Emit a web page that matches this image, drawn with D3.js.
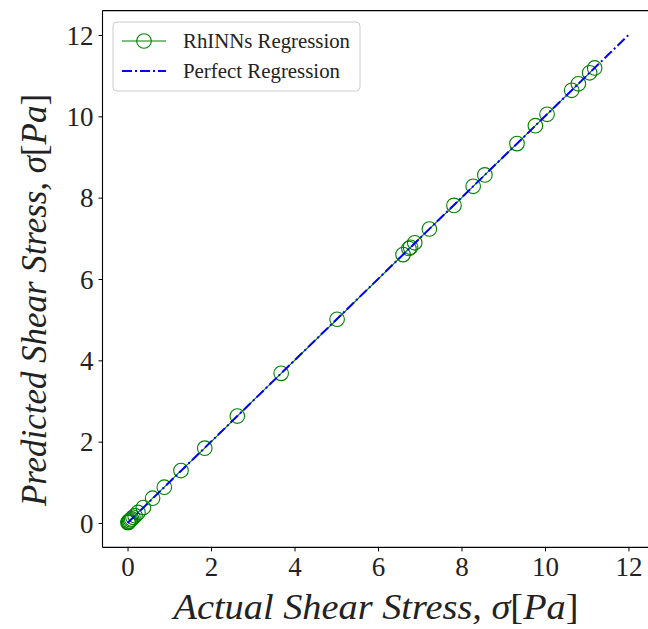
<!DOCTYPE html>
<html>
<head>
<meta charset="utf-8">
<script src="https://cdn.jsdelivr.net/npm/d3@7"></script>
<style>
	html, body { margin: 0; padding: 0; background: #fff; }
	svg { display: block; }
</style>
</head>
<body>
<svg id="chart" width="648" height="629"></svg>
<script>
'use strict'

// RhINNs predictions vs. measured shear stress
var actualStress = [0.01, 0.02, 0.03, 0.05, 0.07, 0.10, 0.13, 0.18, 0.25, 0.38, 0.60, 0.88,
	1.28, 1.85, 2.63, 3.68, 5.02, 6.60, 6.74, 6.78, 6.88, 7.23, 7.82, 8.28, 8.56,
	9.33, 9.77, 10.05, 10.64, 10.80, 11.07, 11.19];
var predictedStress = [0.01, 0.02, 0.04, 0.05, 0.08, 0.10, 0.14, 0.18, 0.26, 0.38, 0.61, 0.88,
	1.29, 1.84, 2.63, 3.68, 5.01, 6.60, 6.75, 6.78, 6.89, 7.23, 7.81, 8.28, 8.56,
	9.33, 9.77, 10.05, 10.64, 10.80, 11.07, 11.19];

// y = x reference
var perfectX = [0, 12];
var perfectY = [0, 12];

var xTicks = [0, 2, 4, 6, 8, 10, 12];
var yTicks = [0, 2, 4, 6, 8, 10, 12];

var legendLabels = ['RhINNs Regression', 'Perfect Regression'];

var serif = '"Liberation Serif", "Times New Roman", "DejaVu Serif", serif';

var svg = d3.select('#chart');
var frame = { left: 102.5, top: 10.6, right: 653.5, bottom: 547.4 };

var xScale = d3.scaleLinear().domain([-0.6, 12.6]).range([frame.left, frame.right]);
var yScale = d3.scaleLinear().domain([-0.6, 12.6]).range([frame.bottom, frame.top]);

svg.append('rect').attr('width', 648).attr('height', 629).attr('fill', '#fff');

var plot = svg.append('g').attr('id', 'plot');

var points = actualStress.map(function(d, i){ return { x: d, y: predictedStress[i] }; });

// green connecting line sits under the blue one
plot.append('path')
	.datum(points)
	.attr('fill', 'none')
	.attr('stroke', '#008000')
	.attr('stroke-width', 1.1)
	.attr('d', d3.line()
		.x(function(d){ return xScale(d.x); })
		.y(function(d){ return yScale(d.y); }));

plot.append('g')
	.selectAll('circle')
	.data(points)
	.enter()
	.append('circle')
	.attr('r', 7.3)
	.attr('fill', 'none')
	.attr('stroke', '#008000')
	.attr('stroke-width', 1.1)
	.attr('cx', function(d){ return xScale(d.x); })
	.attr('cy', function(d){ return yScale(d.y); });

plot.append('path')
	.datum(perfectX.map(function(d, i){ return [d, perfectY[i]]; }))
	.attr('fill', 'none')
	.attr('stroke', '#0000ff')
	.attr('stroke-width', 2)
	.attr('stroke-dasharray', '10,3,2,3')
	.attr('d', d3.line()
		.x(function(d){ return xScale(d[0]); })
		.y(function(d){ return yScale(d[1]); }));

// axes
var xAxis = svg.append('g')
	.attr('transform', `translate(0, ${frame.bottom})`)
	.call(d3.axisBottom(xScale).tickValues(xTicks).tickSize(4).tickPadding(5).tickFormat(d3.format('d')));
var yAxis = svg.append('g')
	.attr('transform', `translate(${frame.left}, 0)`)
	.call(d3.axisLeft(yScale).tickValues(yTicks).tickSize(4).tickPadding(5).tickFormat(d3.format('d')));

[xAxis, yAxis].forEach(function(ax){
	ax.select('.domain').remove();
	ax.attr('font-family', serif);
	ax.selectAll('line').attr('stroke', '#000').attr('stroke-width', 1);
	ax.selectAll('text')
		.style('font-family', serif)
		.attr('font-size', 27)
		.attr('fill', '#222');
});
xAxis.selectAll('text').attr('dy', '0.74em');
yAxis.selectAll('text').attr('dy', '0.34em');

// spines
svg.append('g')
	.selectAll('line')
	.data([
		[frame.left, frame.top, frame.left, frame.bottom],
		[frame.left, frame.bottom, frame.right, frame.bottom],
		[frame.left, frame.top, frame.right, frame.top]
	])
	.enter()
	.append('line')
	.attr('x1', function(d){ return d[0]; })
	.attr('y1', function(d){ return d[1]; })
	.attr('x2', function(d){ return d[2]; })
	.attr('y2', function(d){ return d[3]; })
	.attr('stroke', '#000')
	.attr('stroke-width', 1.1);

// axis titles
function axisTitle(g, words, width){
	var t = g.append('text')
		.style('font-family', serif)
		.attr('text-anchor', 'middle')
		.attr('font-size', 35)
		.attr('font-style', 'italic')
		.attr('fill', '#222');
	t.append('tspan').text(words + ', \u03c3');
	t.append('tspan').attr('font-style', 'normal').text('[');
	t.append('tspan').text('Pa');
	t.append('tspan').attr('font-style', 'normal').text(']');
	t.attr('textLength', width).attr('lengthAdjust', 'spacingAndGlyphs');
	return t;
}

axisTitle(svg.append('g').attr('transform', 'translate(376, 619)'), 'Actual Shear Stress', 405);
axisTitle(svg.append('g').attr('transform', 'translate(46, 300) rotate(-90)'), 'Predicted Shear Stress', 412);

// legend
var legend = svg.append('g').attr('transform', 'translate(113, 22)');
legend.append('rect')
	.attr('width', 247)
	.attr('height', 69)
	.attr('rx', 4)
	.attr('fill', '#fff')
	.attr('fill-opacity', 0.8)
	.attr('stroke', '#cccccc')
	.attr('stroke-width', 1);

var row1 = legend.append('g').attr('transform', 'translate(0, 19)');
row1.append('line').attr('x1', 9).attr('x2', 53)
	.attr('stroke', '#008000').attr('stroke-width', 1.1);
row1.append('circle').attr('cx', 31).attr('r', 7.3)
	.attr('fill', 'none').attr('stroke', '#008000').attr('stroke-width', 1.1);

var row2 = legend.append('g').attr('transform', 'translate(0, 49)');
row2.append('line').attr('x1', 9).attr('x2', 53)
	.attr('stroke', '#0000ff').attr('stroke-width', 2).attr('stroke-dasharray', '10,3,2,3');

legend.selectAll('text.lbl')
	.data(legendLabels)
	.enter()
	.append('text')
	.attr('class', 'lbl')
	.style('font-family', serif)
	.attr('x', 70)
	.attr('y', function(d, i){ return 19 + i*30; })
	.attr('dy', '0.35em')
	.attr('font-size', 20)
	.attr('fill', '#222')
	.text(function(d){ return d; })
	.attr('textLength', function(d, i){ return i === 0 ? 167 : 157; })
	.attr('lengthAdjust', 'spacingAndGlyphs');
</script>
</body>
</html>
